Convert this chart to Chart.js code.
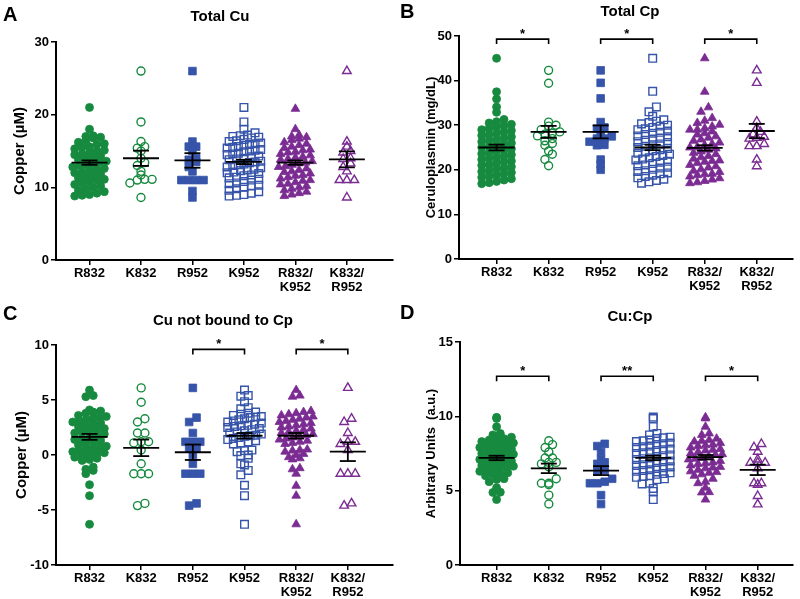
<!DOCTYPE html>
<html lang="en">
<head>
<meta charset="UTF-8">
<title>Cu and Cp dot plots</title>
<script src="https://cdn.jsdelivr.net/npm/chart.js"></script>
<style>
  body { margin: 0; background: #fff; }
  canvas.panel { position: absolute; }
</style>
</head>
<body>
<canvas id="chartA" class="panel" width="400" height="299" style="left:0;top:0"></canvas>
<canvas id="chartB" class="panel" width="400" height="299" style="left:400px;top:0"></canvas>
<canvas id="chartC" class="panel" width="400" height="300" style="left:0;top:299px"></canvas>
<canvas id="chartD" class="panel" width="400" height="300" style="left:400px;top:299px"></canvas>
<script>
// categories (x tick labels)
const categories = ['R832', 'K832', 'R952', 'K952', ['R832/', 'K952'], ['K832/', 'R952']];

// ---- A: Total Cu (uM)
const totalCu_R832 = [21.0, 18.0, 17.1, 17.0, 16.9, 16.8, 16.4, 16.2, 16.0, 15.9, 15.6, 15.5, 15.3, 15.1, 15.0, 14.8, 14.6, 14.5, 14.3, 14.1, 14.0, 13.8, 13.6, 13.5, 13.3, 13.1, 13.0, 12.8, 12.6, 12.5, 12.3, 12.1, 12.0, 11.8, 11.6, 11.5, 11.3, 11.1, 11.0, 10.8, 10.6, 10.4, 10.2, 10.0, 9.8, 9.6, 9.4, 9.2, 9.0, 8.9, 8.8];
const totalCu_K832 = [26.0, 19.0, 16.3, 15.6, 15.4, 15.0, 14.0, 13.4, 13.0, 12.2, 11.7, 11.1, 11.1, 11.0, 10.6, 8.6];
const totalCu_R952 = [26.0, 16.3, 15.6, 15.6, 15.0, 14.0, 13.8, 13.5, 12.8, 12.2, 11.0, 11.0, 11.0, 11.0, 9.5, 8.6];
const totalCu_K952 = [21.0, 19.0, 18.0, 17.5, 17.2, 17.1, 17.0, 16.9, 16.8, 16.6, 16.4, 16.3, 16.1, 16.0, 15.9, 15.8, 15.6, 15.5, 15.4, 15.2, 15.1, 15.0, 14.9, 14.7, 14.6, 14.5, 14.3, 14.2, 14.0, 13.9, 13.8, 13.6, 13.5, 13.4, 13.2, 13.1, 13.0, 12.8, 12.7, 12.5, 12.4, 12.3, 12.1, 12.0, 11.9, 11.7, 11.6, 11.4, 11.3, 11.1, 11.0, 10.8, 10.6, 10.5, 10.3, 10.2, 10.0, 9.8, 9.6, 9.4, 9.2, 9.0, 8.9, 8.8];
const totalCu_R832K952 = [20.8, 18.0, 17.2, 17.0, 16.9, 16.7, 16.5, 16.2, 16.0, 15.8, 15.6, 15.4, 15.2, 15.1, 14.9, 14.8, 14.6, 14.4, 14.2, 14.1, 13.9, 13.8, 13.6, 13.4, 13.3, 13.1, 12.9, 12.8, 12.6, 12.4, 12.2, 12.1, 11.9, 11.7, 11.6, 11.4, 11.2, 11.0, 10.9, 10.7, 10.5, 10.4, 10.2, 10.0, 9.8, 9.6, 9.4, 9.2, 9.0, 8.8];
const totalCu_K832R952 = [26.0, 16.3, 15.6, 15.0, 14.8, 14.0, 13.9, 13.3, 12.8, 12.2, 11.0, 11.0, 11.0, 8.6];
const totalCu_mean = [13.4, 14.0, 13.7, 13.5, 13.4, 13.85];
const totalCu_sem = [0.3, 1.05, 1.0, 0.3, 0.3, 1.1];

// ---- B: Total Cp (mg/dL)
const totalCp_R832 = [45.0, 37.5, 35.9, 34.1, 32.9, 31.3, 30.8, 30.5, 30.2, 29.9, 29.6, 29.3, 29.0, 28.8, 28.5, 28.2, 27.9, 27.7, 27.4, 27.1, 26.8, 26.6, 26.3, 26.0, 25.8, 25.5, 25.2, 25.0, 24.7, 24.4, 24.2, 23.9, 23.6, 23.4, 23.1, 22.8, 22.6, 22.3, 22.0, 21.8, 21.5, 21.2, 21.0, 20.7, 20.4, 20.2, 19.9, 19.6, 19.4, 19.1, 18.8, 18.6, 18.3, 18.0, 17.7, 17.4, 17.1, 16.9];
const totalCp_K832 = [42.3, 39.4, 30.7, 30.0, 29.8, 29.0, 28.5, 28.2, 28.0, 27.6, 27.0, 26.5, 25.9, 25.5, 24.2, 23.5, 22.3, 20.9];
const totalCp_R952 = [42.3, 39.5, 36.0, 30.7, 29.5, 29.2, 28.5, 27.5, 27.0, 27.0, 26.3, 25.6, 25.5, 22.3, 21.2, 20.0];
const totalCp_K952 = [45.0, 37.6, 34.1, 33.0, 32.0, 31.2, 30.9, 30.6, 30.3, 30.0, 29.8, 29.5, 29.2, 29.0, 28.7, 28.4, 28.2, 27.9, 27.6, 27.4, 27.1, 26.9, 26.6, 26.3, 26.1, 25.8, 25.6, 25.3, 25.0, 24.8, 24.5, 24.3, 24.0, 23.7, 23.5, 23.2, 23.0, 22.7, 22.4, 22.2, 21.9, 21.7, 21.4, 21.1, 20.9, 20.6, 20.4, 20.1, 19.8, 19.6, 19.3, 19.1, 18.8, 18.5, 18.2, 17.9, 17.6, 17.3, 17.0];
const totalCp_R832K952 = [45.0, 37.5, 34.0, 33.0, 31.6, 31.0, 30.5, 30.1, 29.7, 29.3, 29.0, 29.0, 28.6, 28.2, 27.9, 27.5, 27.2, 26.8, 26.5, 26.1, 25.8, 25.5, 25.1, 25.0, 24.8, 24.5, 24.1, 23.8, 23.5, 23.1, 22.8, 22.5, 22.1, 22.0, 21.8, 21.5, 21.1, 20.8, 20.5, 20.1, 19.8, 19.5, 19.1, 19.0, 18.8, 18.5, 18.1, 17.8, 17.5, 17.2, 17.0];
const totalCp_K832R952 = [42.3, 39.5, 30.8, 29.4, 28.5, 28.0, 27.4, 27.2, 27.0, 25.8, 25.3, 25.3, 22.3, 20.8];
const totalCp_mean = [25.0, 28.5, 28.5, 25.0, 24.9, 28.7];
const totalCp_sem = [0.65, 1.35, 1.45, 0.6, 0.6, 1.6];

// ---- C: Cu not bound to Cp (uM)
const freeCu_R832 = [5.9, 5.4, 5.3, 4.1, 4.0, 3.9, 3.8, 3.6, 3.5, 3.4, 3.3, 3.2, 3.1, 3.0, 2.9, 2.8, 2.7, 2.6, 2.4, 2.3, 2.2, 2.1, 2.0, 1.9, 1.8, 1.6, 1.5, 1.4, 1.3, 1.2, 1.0, 0.9, 0.8, 0.7, 0.6, 0.5, 0.4, 0.3, 0.2, 0.1, 0.0, -0.1, -0.2, -0.3, -0.4, -0.5, -1.1, -1.3, -1.4, -1.7, -2.7, -3.7, -6.3];
const freeCu_K832 = [6.1, 4.8, 3.3, 3.0, 2.0, 2.0, 1.2, 1.2, 1.1, 0.45, -0.8, -1.7, -1.7, -1.7, -4.4, -4.6];
const freeCu_R952 = [6.1, 3.4, 3.0, 2.0, 1.2, 1.2, 1.2, 0.6, 0.6, 0.0, -0.8, -1.7, -1.7, -1.7, -4.4, -4.6];
const freeCu_K952 = [5.9, 5.4, 5.35, 4.85, 4.3, 4.2, 3.9, 3.8, 3.7, 3.6, 3.5, 3.45, 3.4, 3.3, 3.2, 3.1, 3.0, 2.9, 2.8, 2.7, 2.65, 2.6, 2.5, 2.4, 2.3, 2.2, 2.1, 2.0, 1.9, 1.8, 1.75, 1.7, 1.6, 1.5, 1.4, 1.3, 1.2, 1.1, 1.0, 0.45, 0.4, 0.3, 0.0, -0.05, -0.3, -0.8, -0.9, -1.4, -1.8, -2.75, -3.7, -6.3];
const freeCu_R832K952 = [5.9, 5.4, 5.3, 4.0, 3.9, 3.8, 3.7, 3.6, 3.5, 3.4, 3.3, 3.2, 3.1, 3.0, 2.9, 2.8, 2.7, 2.6, 2.5, 2.4, 2.3, 2.2, 2.1, 2.0, 1.9, 1.8, 1.7, 1.6, 1.5, 1.4, 1.3, 1.2, 1.1, 1.0, 0.5, 0.45, 0.4, 0.3, 0.1, 0.0, -0.2, -0.3, -0.4, -1.2, -1.3, -1.7, -2.8, -3.7, -6.3];
const freeCu_K832R952 = [6.1, 3.3, 3.0, 2.0, 1.2, 1.2, 1.0, 0.45, -1.7, -1.7, -1.7, -4.4, -4.6];
const freeCu_mean = [1.65, 0.65, 0.25, 1.75, 1.75, 0.3];
const freeCu_sem = [0.27, 0.75, 0.7, 0.25, 0.25, 0.85];

// ---- D: Cu:Cp (a.u.)
const ratio_R832 = [9.93, 9.86, 9.3, 8.85, 8.75, 8.6, 8.5, 8.45, 8.4, 8.3, 8.2, 8.15, 8.1, 8.0, 7.95, 7.9, 7.8, 7.7, 7.65, 7.6, 7.5, 7.45, 7.4, 7.3, 7.2, 7.15, 7.1, 7.0, 6.95, 6.9, 6.8, 6.7, 6.65, 6.6, 6.5, 6.45, 6.4, 6.3, 6.2, 6.15, 6.1, 6.0, 5.8, 5.75, 5.6, 5.2, 4.9, 4.88, 4.4];
const ratio_K832 = [8.36, 8.1, 7.9, 7.6, 7.2, 7.2, 6.9, 6.9, 6.8, 6.6, 5.8, 5.5, 5.5, 5.4, 4.7, 4.1];
const ratio_R952 = [8.15, 8.0, 7.6, 7.1, 6.9, 6.8, 6.4, 6.3, 5.8, 5.6, 5.5, 5.5, 4.7, 4.1];
const ratio_K952 = [9.95, 9.85, 9.3, 8.85, 8.75, 8.6, 8.55, 8.5, 8.4, 8.35, 8.3, 8.2, 8.15, 8.1, 8.0, 7.95, 7.9, 7.8, 7.75, 7.7, 7.6, 7.55, 7.5, 7.4, 7.35, 7.3, 7.2, 7.15, 7.1, 7.0, 6.95, 6.9, 6.8, 6.75, 6.7, 6.6, 6.55, 6.5, 6.4, 6.35, 6.3, 6.2, 6.15, 6.1, 6.0, 5.95, 5.9, 5.8, 5.75, 5.5, 5.45, 5.15, 4.95, 4.4];
const ratio_R832K952 = [9.93, 9.86, 9.3, 8.85, 8.75, 8.5, 8.4, 8.35, 8.3, 8.2, 8.1, 8.05, 8.0, 7.9, 7.8, 7.75, 7.7, 7.6, 7.5, 7.45, 7.4, 7.3, 7.2, 7.15, 7.1, 7.0, 6.9, 6.85, 6.8, 6.7, 6.6, 6.55, 6.5, 6.4, 6.3, 6.25, 6.2, 6.1, 6.0, 5.8, 5.6, 5.5, 5.2, 4.9, 4.88, 4.4];
const ratio_K832R952 = [8.14, 7.92, 7.62, 7.1, 6.88, 6.88, 6.88, 6.5, 5.5, 5.5, 5.4, 4.64, 4.08];
const ratio_mean = [7.2, 6.5, 6.35, 7.2, 7.25, 6.4];
const ratio_sem = [0.15, 0.32, 0.3, 0.15, 0.15, 0.35];

// significance brackets: [from, to] and label
const cpPairs = [[0, 1], [2, 3], [4, 5]];
const cpStars = ['*', '*', '*'];
const freePairs = [[2, 3], [4, 5]];
const freeStars = ['*', '*'];
const ratioPairs = [[0, 1], [2, 3], [4, 5]];
const ratioStars = ['*', '**', '*'];

const FONT = '"Liberation Sans", Arial, sans-serif';
const green = '#178a3f', blue = '#3654a9', purple = '#7b2c92';
const looks = [
  { color: green, shape: 'circle', r: 4, fill: true },
  { color: green, shape: 'circle', r: 4, fill: false },
  { color: blue, shape: 'rect', r: 5.4, fill: true },
  { color: blue, shape: 'rect', r: 5.4, fill: false },
  { color: purple, shape: 'triangle', r: 5, fill: true },
  { color: purple, shape: 'triangle', r: 5, fill: false }
];

// prism-style scatter: points that fall in the same pixel row are spread side by side
function spread(values, center, kx, ky) {
  const rowH = 6, colW = 7.5, maxHalf = 17;
  const rows = {};
  values.forEach((v, i) => {
    const b = Math.round(v * ky / rowH);
    (rows[b] = rows[b] || []).push(i);
  });
  const xs = [];
  Object.values(rows).forEach(idx => {
    idx.sort((a, b) => values[a] - values[b]);
    const n = idx.length;
    const w = n > 1 ? Math.min(colW, 2 * maxHalf / (n - 1)) : 0;
    idx.forEach((i, j) => { xs[i] = center + (j - (n - 1) / 2) * w / kx; });
  });
  return values.map((v, i) => ({ x: xs[i], y: v }));
}

const decor = {
  id: 'decor',
  afterDatasetsDraw(chart, args, o) {
    const ctx = chart.ctx, xs = chart.scales.x, ys = chart.scales.y;
    const line = (x1, y1, x2, y2) => { ctx.beginPath(); ctx.moveTo(x1, y1); ctx.lineTo(x2, y2); ctx.stroke(); };
    ctx.save();
    ctx.strokeStyle = '#000';
    ctx.lineWidth = 1.8;
    o.means.forEach((m, i) => {
      const cx = xs.getPixelForValue(i);
      const my = ys.getPixelForValue(m);
      const top = ys.getPixelForValue(m + o.sems[i]);
      const bot = ys.getPixelForValue(m - o.sems[i]);
      line(cx - 18, my, cx + 18, my);
      line(cx, top, cx, bot);
      line(cx - 8, top, cx + 8, top);
      line(cx - 8, bot, cx + 8, bot);
    });
    // brackets
    ctx.lineWidth = 1.6;
    ctx.fillStyle = '#000';
    ctx.font = 'bold 13px ' + FONT;
    ctx.textAlign = 'center';
    ctx.textBaseline = 'alphabetic';
    (o.pairs || []).forEach((p, j) => {
      const x1 = xs.getPixelForValue(p[0]), x2 = xs.getPixelForValue(p[1]);
      const by = ys.getPixelForValue(o.bracketY);
      ctx.beginPath();
      ctx.moveTo(x1, by + 5); ctx.lineTo(x1, by); ctx.lineTo(x2, by); ctx.lineTo(x2, by + 5);
      ctx.stroke();
      ctx.fillText(o.stars[j], (x1 + x2) / 2, by - 1);
    });
    ctx.restore();
  },
  afterDraw(chart, args, o) {
    const ctx = chart.ctx, area = chart.chartArea;
    ctx.save();
    ctx.fillStyle = '#000';
    ctx.textBaseline = 'middle';
    ctx.textAlign = 'left';
    ctx.font = 'bold 20px ' + FONT;
    ctx.fillText(o.letter, o.letterX, o.letterY);
    ctx.textAlign = 'center';
    ctx.font = 'bold 15px ' + FONT;
    ctx.fillText(o.title, o.titleX, o.titleY);
    ctx.translate(o.yTitleX, (area.top + area.bottom) / 2);
    ctx.rotate(-Math.PI / 2);
    ctx.font = 'bold ' + o.yTitleSize + 'px ' + FONT;
    ctx.fillText(o.yTitle, 0, 0);
    ctx.restore();
  }
};

function makePanel(id, groups, means, sems, cfg) {
  const canvas = document.getElementById(id);
  const W = canvas.width, H = canvas.height;
  const kx = (cfg.right - cfg.left) / (cfg.xMax - cfg.xMin);
  const ky = (cfg.bottom - cfg.top) / (cfg.yMax - cfg.yMin);
  const datasets = groups.map((vals, i) => {
    const lk = looks[i];
    return {
      data: spread(vals, i, kx, ky),
      pointStyle: lk.shape,
      pointRadius: lk.r,
      pointHoverRadius: lk.r,
      backgroundColor: lk.fill ? lk.color : 'rgba(255,255,255,0)',
      borderColor: lk.color,
      pointBorderWidth: lk.fill ? 0.8 : 1.4
    };
  });
  return new Chart(canvas, {
    type: 'scatter',
    data: { datasets },
    options: {
      responsive: false,
      animation: false,
      events: [],
      layout: { padding: { left: 0, top: cfg.top, right: W - cfg.right, bottom: 0 } },
      plugins: {
        legend: { display: false },
        tooltip: { enabled: false },
        decor: Object.assign({ means, sems }, cfg.text)
      },
      scales: {
        x: {
          type: 'linear',
          min: cfg.xMin,
          max: cfg.xMax,
          afterBuildTicks: s => { s.ticks = categories.map((c, i) => ({ value: i })); },
          afterFit: s => { s.height = H - cfg.bottom; },
          grid: { display: true, drawOnChartArea: false, drawTicks: true, tickLength: 5, color: '#000', lineWidth: 1.5 },
          border: { display: true, color: '#000', width: 2 },
          ticks: {
            autoSkip: false, maxRotation: 0, padding: 2, color: '#000',
            font: { family: FONT, size: 13, weight: 'bold', lineHeight: 1.05 },
            callback: (v, i) => categories[i]
          }
        },
        y: {
          min: cfg.yMin,
          max: cfg.yMax,
          afterFit: s => { s.width = cfg.left; },
          grid: { display: true, drawOnChartArea: false, drawTicks: true, tickLength: 5, color: '#000', lineWidth: 1.5 },
          border: { display: true, color: '#000', width: 2 },
          ticks: { stepSize: cfg.step, padding: 2, color: '#000', font: { family: FONT, size: 13, weight: 'bold' } }
        }
      }
    },
    plugins: [decor]
  });
}

makePanel('chartA',
  [totalCu_R832, totalCu_K832, totalCu_R952, totalCu_K952, totalCu_R832K952, totalCu_K832R952],
  totalCu_mean, totalCu_sem,
  { left: 56, top: 42, right: 398, bottom: 260, xMin: -0.651, xMax: 5.90, yMin: 0, yMax: 30, step: 10,
    text: { letter: 'A', letterX: 3, letterY: 15, title: 'Total Cu', titleX: 220, titleY: 17, yTitle: 'Copper (\u00b5M)', yTitleX: 20, yTitleSize: 15 } });

makePanel('chartB',
  [totalCp_R832, totalCp_K832, totalCp_R952, totalCp_K952, totalCp_R832K952, totalCp_K832R952],
  totalCp_mean, totalCp_sem,
  { left: 59, top: 36, right: 397, bottom: 259, xMin: -0.722, xMax: 5.70, yMin: 0, yMax: 50, step: 10,
    text: { letter: 'B', letterX: 0, letterY: 12, title: 'Total Cp', titleX: 230, titleY: 12, yTitle: 'Ceruloplasmin (mg/dL)', yTitleX: 31, yTitleSize: 13,
      pairs: cpPairs, stars: cpStars, bracketY: 49.3 } });

makePanel('chartC',
  [freeCu_R832, freeCu_K832, freeCu_R952, freeCu_K952, freeCu_R832K952, freeCu_K832R952],
  freeCu_mean, freeCu_sem,
  { left: 56, top: 46, right: 398, bottom: 266, xMin: -0.649, xMax: 5.878, yMin: -10, yMax: 10, step: 5,
    text: { letter: 'C', letterX: 3, letterY: 15, title: 'Cu not bound to Cp', titleX: 223, titleY: 22, yTitle: 'Copper (\u00b5M)', yTitleX: 22, yTitleSize: 15,
      pairs: freePairs, stars: freeStars, bracketY: 9.6 } });

makePanel('chartD',
  [ratio_R832, ratio_K832, ratio_R952, ratio_K952, ratio_R832K952, ratio_K832R952],
  ratio_mean, ratio_sem,
  { left: 60, top: 43, right: 397, bottom: 266, xMin: -0.701, xMax: 5.68, yMin: 0, yMax: 15, step: 5,
    text: { letter: 'D', letterX: 0, letterY: 14, title: 'Cu:Cp', titleX: 230, titleY: 18, yTitle: 'Arbitrary Units  (a.u.)', yTitleX: 31, yTitleSize: 13,
      pairs: ratioPairs, stars: ratioStars, bracketY: 12.7 } });
</script>
</body>
</html>
